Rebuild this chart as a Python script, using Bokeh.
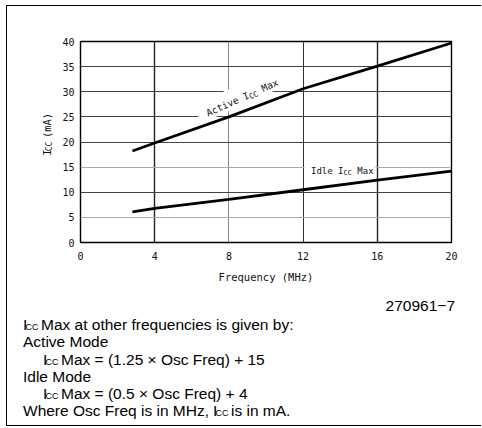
import math
from bokeh.plotting import figure
from bokeh.layouts import column, row
from bokeh.models import Range1d, FixedTicker, Grid, Label
from bokeh.embed import file_html
from bokeh.resources import INLINE

# ---- data ----
freq_mhz = [2.8, 4, 8, 12, 16, 20]
active_icc = [18.2, 19.8, 25.0, 30.6, 35.1, 39.7]
idle_icc = [6.1, 6.8, 8.6, 10.5, 12.4, 14.2]
x_ticks = [0, 4, 8, 12, 16, 20]
y_ticks = [0, 5, 10, 15, 20, 25, 30, 35, 40]
x_label = "Frequency (MHz)"
fig_id = "270961\u22127"

MONO = "DejaVu Sans Mono"
SANS = "Liberation Sans"

# ---- layout (page pixels) ----
ML, MT, BW = 6, 5, 1.5          # css margin / border of the outer box
OX, OY = ML + BW, MT + BW       # page origin of the content
CW = 474                        # content width
WL = 52                         # y-label strip width
HC = 284                        # chart row height
HF = 135                        # footnote height
WP = CW - WL                    # chart figure width
MBL, MBT, FW, FH = 21, 35, 371, 201
MBR = WP - MBL - FW
MBB = HC - MBT - FH
X0, X1, Y0, Y1 = 0, 20, 0, 40
PX0 = OX + WL + MBL             # page x of frame left
PY0 = OY + MBT + FH             # page y of frame bottom
KX = FW / (X1 - X0)
KY = FH / (Y1 - Y0)


def dx(px):
    return X0 + (px - PX0) / KX


def dy(py):
    return Y0 + (PY0 - py) / KY


def blank(w, h, x0, y0):
    f = figure(width=w, height=h, x_range=Range1d(x0, x0 + w),
               y_range=Range1d(y0 + h, y0), output_backend="svg",
               toolbar_location=None, x_axis_type=None, y_axis_type=None,
               min_border=0)
    f.outline_line_color = None
    f.background_fill_color = "white"
    f.border_fill_color = "white"
    f.grid.visible = False
    return f


# ---- chart ----
p = figure(width=WP, height=HC, x_range=Range1d(X0, X1), y_range=Range1d(Y0, Y1),
           output_backend="svg", toolbar_location=None,
           min_border_left=MBL, min_border_right=MBR,
           min_border_top=MBT, min_border_bottom=MBB)
p.background_fill_color = "white"
p.border_fill_color = "white"
p.outline_line_color = "black"
p.outline_line_width = 1.4

for ax in (p.xaxis[0], p.yaxis[0]):
    ax.axis_line_color = None
    ax.major_tick_line_color = None
    ax.minor_tick_line_color = None
    ax.major_tick_out = 0
    ax.major_tick_in = 0
    ax.minor_tick_out = 0
    ax.minor_tick_in = 0
    ax.major_label_text_font = MONO
    ax.major_label_text_font_size = "10px"
    ax.major_label_text_color = "#111111"
p.xaxis.ticker = FixedTicker(ticks=x_ticks)
p.yaxis.ticker = FixedTicker(ticks=y_ticks)
p.xaxis.major_label_standoff = 9
p.yaxis.major_label_standoff = 6
p.xaxis.axis_label = x_label
p.xaxis.axis_label_text_font = MONO
p.xaxis.axis_label_text_font_size = "10.5px"
p.xaxis.axis_label_text_font_style = "normal"
p.xaxis.axis_label_text_color = "#111111"
p.xaxis.axis_label_standoff = 8

p.grid.grid_line_color = None
grid_specs = [
    (0, [4, 16], "#222222", 1.4),
    (0, [8], "#888888", 1.0),
    (0, [12], "#333333", 1.0),
    (1, [10, 20, 25, 30, 35], "#444444", 1.0),
    (1, [5, 15], "#aaaaaa", 1.0),
]
for dim, ticks, col, lw in grid_specs:
    p.add_layout(Grid(dimension=dim, ticker=FixedTicker(ticks=ticks),
                      grid_line_color=col, grid_line_width=lw))

ANG = math.radians(24)
p.rect(x=[dx(239)], y=[dy(95.7)], width=[91], height=[20], width_units="screen",
       height_units="screen", angle=ANG, fill_color="white", line_color=None)
p.rect(x=[dx(340)], y=[dy(167)], width=[71], height=[13], width_units="screen",
       height_units="screen", fill_color="white", line_color=None)

p.line(freq_mhz, active_icc, line_color="black", line_width=2.8)
p.line(freq_mhz, idle_icc, line_color="black", line_width=2.8)


def rot_text(px, py, pieces, angle):
    ca, sa = math.cos(angle), math.sin(angle)
    for txt, size, d, s in pieces:
        p.add_layout(Label(x=dx(px), y=dy(py), text=txt, angle=angle,
                           x_offset=d * ca + s * sa, y_offset=d * sa - s * ca,
                           text_font=MONO, text_font_size=size,
                           text_color="#111111", text_align="left",
                           text_baseline="alphabetic"))


rot_text(206.7, 113.3, [("Active I", "9.5px", 0, 0), ("CC", "7.5px", 45.7, 2.5),
                        ("Max", "9.5px", 60.4, 0)], ANG)
rot_text(311, 170.7, [("Idle I", "9px", 0, 0), ("CC", "7px", 32.5, 2.5),
                      ("Max", "9px", 46.3, 0)], 0.0)

# ---- y-axis label strip ----
yl = blank(WL, HC, OX, OY)
for txt, size, px, py in [("I", "10.5px", 46.7, 168), ("CC", "8px", 49.4, 161.5),
                          ("(mA)", "10.5px", 46.7, 143)]:
    yl.add_layout(Label(x=px, y=py, text=txt, angle=math.pi / 2,
                        text_font=MONO, text_font_size=size,
                        text_color="#111111", text_baseline="alphabetic"))

# ---- footnote ----
ft = blank(CW, HF, OX, OY + HC)
FS = "15.5px"
SUB = "9px"
foot = [
    (fig_id, FS, 455, 305.5, "right"),
    ("I", FS, 23, 324.5, "left"), ("CC", SUB, 25.5, 327, "left"),
    ("Max at other frequencies is given by:", FS, 41, 324.5, "left"),
    ("Active Mode", FS, 23, 341.7, "left"),
    ("I", FS, 43, 359, "left"), ("CC", SUB, 45.5, 361.5, "left"),
    ("Max = (1.25 \u00d7 Osc Freq) + 15", FS, 61, 359, "left"),
    ("Idle Mode", FS, 23, 376.2, "left"),
    ("I", FS, 43, 393.4, "left"), ("CC", SUB, 45.5, 395.9, "left"),
    ("Max = (0.5 \u00d7 Osc Freq) + 4", FS, 61, 393.4, "left"),
    ("Where Osc Freq is in MHz,", FS, 23, 410.5, "left"),
    ("I", FS, 213, 410.5, "left"), ("CC", SUB, 215.5, 413, "left"),
    ("is in mA.", FS, 231, 410.5, "left"),
]
for txt, size, px, py, al in foot:
    ft.add_layout(Label(x=px, y=py, text=txt, text_font=SANS,
                        text_font_size=size, text_color="black",
                        text_align=al, text_baseline="alphabetic"))

box_css = {
    "margin-left": f"{ML}px", "margin-top": f"{MT}px",
    "border-left": f"{BW}px solid black", "border-top": f"{BW}px solid black",
    "border-bottom": f"{BW}px solid black",
    "overflow": "hidden", "box-sizing": "content-box",
}
page = column(row(yl, p, spacing=0), ft, spacing=0, styles=box_css)

open("out.html", "w").write(file_html(page, INLINE))
